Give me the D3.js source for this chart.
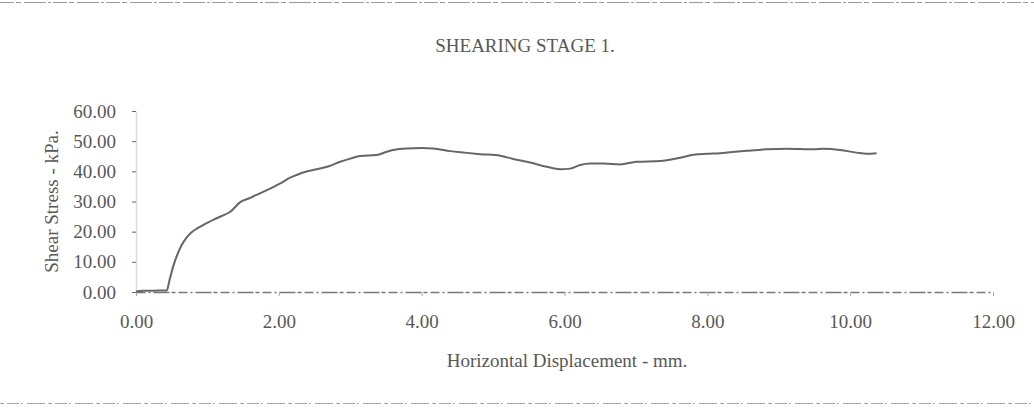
<!DOCTYPE html>
<html>
<head>
<meta charset="utf-8">
<script src="https://cdn.jsdelivr.net/npm/d3@7"></script>
<style>
  html, body { margin: 0; padding: 0; background: #fff; }
  svg { display: block; }
  text { font-family: "Liberation Serif", "Times New Roman", serif; fill: #585858; }
</style>
</head>
<body>
<svg id="chart" width="1034" height="418"></svg>
<script>
// Horizontal displacement (mm) and shear stress (kPa) for shearing stage 1
const displacement = [0, 0.1, 0.2, 0.3, 0.43, 0.47, 0.52, 0.58, 0.64, 0.70, 0.76, 0.85, 0.95, 1.08, 1.20, 1.32, 1.46, 1.60, 1.74, 1.88, 2.02, 2.15, 2.25, 2.40, 2.53, 2.70, 2.86, 3.00, 3.14, 3.37, 3.50, 3.60, 3.79, 4.00, 4.16, 4.40, 4.60, 4.82, 5.10, 5.28, 5.52, 5.75, 5.94, 6.08, 6.22, 6.36, 6.55, 6.78, 7.01, 7.34, 7.62, 7.81, 8.00, 8.18, 8.35, 8.55, 8.83, 9.11, 9.30, 9.49, 9.63, 9.86, 10.09, 10.23, 10.37];
const shearStress = [0.2, 0.4, 0.4, 0.5, 0.5, 4.0, 8.4, 12.5, 15.6, 17.8, 19.4, 21.0, 22.3, 23.9, 25.2, 26.6, 29.8, 31.2, 32.8, 34.3, 36.0, 37.8, 38.8, 40.0, 40.7, 41.7, 43.2, 44.2, 45.1, 45.4, 46.4, 47.1, 47.6, 47.7, 47.6, 46.7, 46.2, 45.7, 45.2, 44.1, 42.9, 41.5, 40.7, 40.9, 42.1, 42.6, 42.6, 42.3, 43.2, 43.4, 44.5, 45.5, 45.8, 46.0, 46.4, 46.8, 47.3, 47.5, 47.4, 47.3, 47.5, 47.1, 46.2, 45.8, 46.0];
const xTicks = [0, 2, 4, 6, 8, 10, 12];
const yTicks = [0, 10, 20, 30, 40, 50, 60];

const titleText = "SHEARING STAGE 1.";
const xTitle = "Horizontal Displacement - mm.";
const yTitle = "Shear Stress - kPa.";

const svg = d3.select("#chart");
const W = 1034, H = 418;
const plot = { left: 136, right: 993, top: 111, bottom: 292 };

svg.append("rect").attr("width", W).attr("height", H).attr("fill", "#fff");

// page frame lines above and below the chart
svg.append("line").attr("x1", 0).attr("x2", W).attr("y1", 2.5).attr("y2", 2.5)
  .attr("stroke", "#9a9a9a").attr("stroke-width", 1.2).attr("stroke-dasharray", "14,2,5,3,22,2,3,2");
svg.append("line").attr("x1", 0).attr("x2", W).attr("y1", 403.5).attr("y2", 403.5)
  .attr("stroke", "#a8a8a8").attr("stroke-width", 1.2).attr("stroke-dasharray", "4,3,12,2,2,4,18,3");

const x = d3.scaleLinear().domain([0, 12]).range([plot.left, plot.right]);
const y = d3.scaleLinear().domain([0, 60]).range([plot.bottom, plot.top]);

// y axis
const yAxis = svg.append("g")
  .attr("transform", `translate(${plot.left},0)`)
  .call(d3.axisLeft(y).tickValues(yTicks).tickFormat(d3.format(".2f")).tickSize(4).tickPadding(16).tickSizeOuter(0));
yAxis.select(".domain").attr("stroke", "#dcdcdc").attr("stroke-width", 1.5);
yAxis.selectAll(".tick line").attr("stroke", "#666");
yAxis.selectAll(".tick text").attr("font-size", 19).style("font-family", "Liberation Serif, serif").attr("fill", "#585858");

// x axis
const xAxis = svg.append("g")
  .attr("transform", `translate(0,${plot.bottom})`)
  .call(d3.axisBottom(x).tickValues(xTicks).tickFormat(d3.format(".2f")).tickSize(4).tickPadding(18.5).tickSizeOuter(0));
xAxis.select(".domain").attr("stroke", "#777").attr("stroke-width", 1.3).attr("stroke-dasharray", "9,3,2,3,16,2,4,3");
xAxis.selectAll(".tick line").attr("stroke", "#aaa");
xAxis.selectAll(".tick text").attr("font-size", 19).style("font-family", "Liberation Serif, serif").attr("fill", "#585858");

// data curve
const pts = displacement.map((d, i) => [d, shearStress[i]]);
const line = d3.line().x(d => x(d[0])).y(d => y(d[1])).curve(d3.curveMonotoneX);
svg.append("path").datum(pts)
  .attr("fill", "none").attr("stroke", "#666").attr("stroke-width", 2)
  .attr("stroke-linejoin", "round").attr("d", line);

// titles
svg.append("text").attr("x", 525).attr("y", 52).attr("text-anchor", "middle")
  .attr("font-size", 19).text(titleText);
svg.append("text").attr("x", 567).attr("y", 367).attr("text-anchor", "middle")
  .attr("font-size", 19).text(xTitle);
svg.append("text").attr("transform", `translate(58,${(plot.top + plot.bottom) / 2}) rotate(-90)`)
  .attr("text-anchor", "middle").attr("font-size", 19).text(yTitle);
</script>
</body>
</html>
